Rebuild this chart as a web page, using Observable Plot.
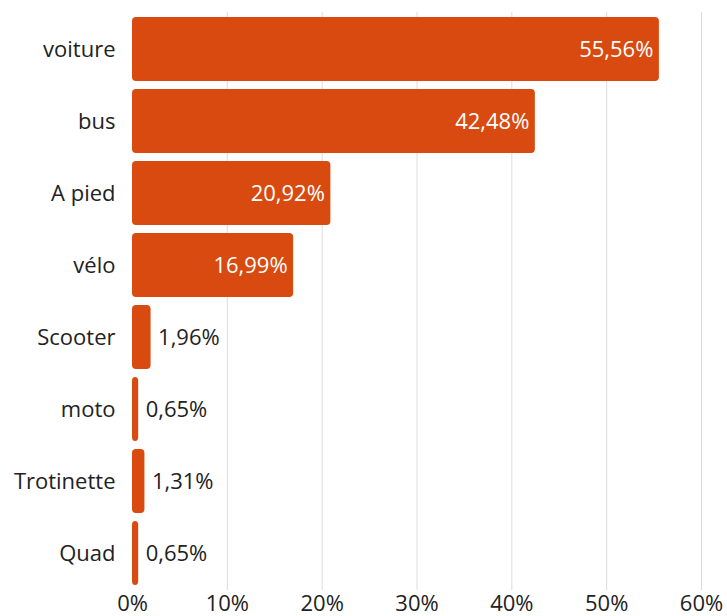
<!DOCTYPE html>
<html>
<head>
<meta charset="utf-8">
<script src="https://cdn.jsdelivr.net/npm/d3@7"></script>
<script src="https://cdn.jsdelivr.net/npm/@observablehq/plot@0.6"></script>
<style>
  body { margin: 0; background: #fff; }
  #chart svg { font-family: "Open Sans", sans-serif; }
</style>
</head>
<body>
<div id="chart"></div>
<script>
const categories = ["voiture", "bus", "A pied", "vélo", "Scooter", "moto", "Trotinette", "Quad"];
const values = [55.56, 42.48, 20.92, 16.99, 1.96, 0.65, 1.31, 0.65];
const xTicks = [0, 10, 20, 30, 40, 50, 60];

const data = categories.map((c, i) => ({category: c, value: values[i]}));
const fmt = v => v.toFixed(2).replace(".", ",") + "%";
const barColor = "#d84a0f";

const chart = Plot.plot({
  width: 727,
  height: 616,
  marginLeft: 132,
  marginRight: 26,
  marginTop: 12,
  marginBottom: 26,
  style: {fontFamily: "'Open Sans', sans-serif", fontSize: "22px", color: "#222", background: "#fff"},
  x: {domain: [0, 60], ticks: xTicks, tickFormat: d => d + "%", label: null},
  y: {domain: categories, label: null, paddingInner: 0.108, paddingOuter: 0.05},
  marks: [
    Plot.ruleX(xTicks.filter(d => d > 0), {stroke: "#dcdcdc", strokeWidth: 1}),
    Plot.barX(data, {x: "value", y: "category", fill: barColor, rx: 4}),
    Plot.text(data.filter(d => d.value > 10), {
      x: "value", y: "category", text: d => fmt(d.value),
      textAnchor: "end", dx: -6, fill: "white", fontSize: 22
    }),
    Plot.text(data.filter(d => d.value <= 10), {
      x: "value", y: "category", text: d => fmt(d.value),
      textAnchor: "start", dx: 7, fill: "#222", fontSize: 22
    }),
    Plot.axisX({ticks: xTicks, tickFormat: d => d + "%", tickSize: 0, tickPadding: 5, fontSize: 22, label: null}),
    Plot.axisY({tickSize: 0, tickPadding: 17, fontSize: 22, label: null})
  ]
});
document.getElementById("chart").appendChild(chart);
</script>
</body>
</html>
